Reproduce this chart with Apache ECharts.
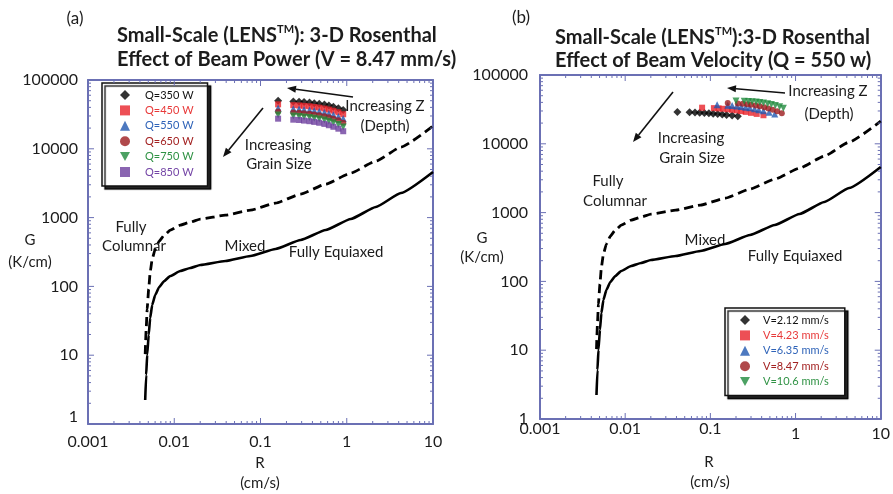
<!DOCTYPE html>
<html>
<head>
<meta charset="utf-8">
<script src="https://cdn.jsdelivr.net/npm/echarts@6/dist/echarts.min.js"></script>
<style>
html, body { margin: 0; padding: 0; background: #ffffff; }
#chart { width: 893px; height: 494px; }
</style>
</head>
<body>
<div id="chart"></div>
<script>
// ---- Axis ranges and tick labels ----
const R_MIN = 0.001, R_MAX = 10;
const G_MIN = 1, G_MAX = 100000;
const xTickLabels = ['0.001', '0.01', '0.1', '1', '10'];
const yTickLabels = ['1', '10', '100', '1000', '10000', '100000'];
const xMajorTicks = [0.001, 0.01, 0.1, 1, 10];
const yMajorTicks = [1, 10, 100, 1000, 10000, 100000];
const minorSteps = [2, 3, 4, 5, 6, 7, 8, 9];

// ---- CET boundaries (Hunt criterion), shared by both panels ----
const boundaryR = [0.004604, 0.004725, 0.004853, 0.005052, 0.00526, 0.005549, 0.006013, 0.006694, 0.00765, 0.008983, 0.011744,
                   0.015353, 0.020064, 0.039172, 0.076494, 0.14942, 0.29182, 0.57003, 1.113, 2.1737, 4.2457, 10];
const equiaxedG = [2.233, 5.154, 10.07, 19.66, 34.73, 53.65, 74.99, 98.0, 119.8, 141.6, 167.4,
                   185.1, 204.6, 233.9, 276.6, 349.6, 472.5, 660.3, 954.3, 1426, 2279, 4601];        // fully equiaxed limit (solid)
const columnarG = [10.37, 23.92, 46.74, 91.26, 161.2, 249.0, 348.1, 454.9, 556.1, 657.3, 777.1,
                   859.2, 949.8, 1085.8, 1284, 1623, 2193, 3065, 4430, 6619, 10579, 21358];          // fully columnar limit (dashed)

// ---- Panel (a): effect of beam power, V = 8.47 mm/s ----
const powerNames = ['Q=350 W', 'Q=450 W', 'Q=550 W', 'Q=650 W', 'Q=750 W', 'Q=850 W'];
const powerR = [0.16, 0.24, 0.28, 0.32, 0.37, 0.42, 0.48, 0.55, 0.62, 0.70, 0.80, 0.91];
const powerG350 = [50000, 48800, 48300, 47700, 47000, 46100, 45100, 43900, 42500, 41000, 39000, 36600];
const powerG450 = [44300, 43100, 42700, 42100, 41500, 40600, 39700, 38500, 37300, 35800, 34000, 31800];
const powerG550 = [39300, 38200, 37800, 37300, 36600, 35900, 35000, 33900, 32700, 31300, 29600, 27600];
const powerG650 = [34800, 33800, 33400, 32900, 32300, 31600, 30800, 29800, 28700, 27400, 25900, 24000];
const powerG750 = [30900, 29900, 29600, 29100, 28500, 27900, 27100, 26200, 25200, 24000, 22500, 20800];
const powerG850 = [27400, 26500, 26200, 25700, 25200, 24600, 23900, 23000, 22000, 20900, 19600, 18000];

// ---- Panel (b): effect of beam velocity, Q = 550 W ----
const velocityNames = ['V=2.12 mm/s', 'V=4.23 mm/s', 'V=6.35 mm/s', 'V=8.47 mm/s', 'V=10.6 mm/s'];
const velR212 = [0.041, 0.057, 0.066, 0.075, 0.085, 0.096, 0.108, 0.122, 0.138, 0.155, 0.18, 0.21];
const velG212 = [29000, 28700, 28500, 28300, 28000, 27700, 27400, 27000, 26600, 26200, 25700, 25100];
const velR423 = [0.08, 0.11, 0.125, 0.14, 0.16, 0.18, 0.205, 0.23, 0.26, 0.30, 0.35, 0.42];
const velG423 = [33500, 33000, 32700, 32300, 31800, 31200, 30600, 29900, 29100, 28200, 27200, 26000];
const velR635 = [0.12, 0.16, 0.18, 0.205, 0.23, 0.26, 0.29, 0.33, 0.37, 0.42, 0.49, 0.57];
const velG635 = [37000, 36300, 35900, 35400, 34800, 34100, 33300, 32400, 31300, 30100, 28700, 27200];
const velR847 = [0.16, 0.21, 0.24, 0.27, 0.30, 0.34, 0.38, 0.43, 0.48, 0.54, 0.61, 0.69];
const velG847 = [39300, 38500, 38100, 37500, 36800, 36000, 35000, 33900, 32700, 31300, 29700, 27800];
const velR1060 = [0.20, 0.25, 0.28, 0.31, 0.345, 0.38, 0.42, 0.47, 0.52, 0.58, 0.65, 0.72];
const velG1060 = [42000, 41600, 41300, 40900, 40400, 39800, 39100, 38200, 37200, 36000, 34600, 33000];

// ---- Styling ----
const FONT = 'Lato, "Open Sans", sans-serif';
const FRAME = '#6b70b4';
const INK = '#1c1c1c';
const markColors = ['#000000', '#e8232b', '#2157b0', '#9c1c1e', '#1f8a3c', '#6d3f9e'];
const textColors = ['#111111', '#e83a3a', '#2f63b8', '#a32222', '#2f9244', '#7445a6'];
const INV_TRIANGLE = 'path://M0,0L10,0L5,9Z';
const powerSymbols = ['diamond', 'rect', 'triangle', 'circle', INV_TRIANGLE, 'rect'];
const powerSizes = [8, 6, 7, 6, 7, 6];
const velSymbols = ['diamond', 'rect', 'triangle', 'circle', INV_TRIANGLE];
const velSizes = [8, 6, 7, 6, 7];

const pairs = (xs, ys) => xs.map((x, i) => [x, ys[i]]);
const decade = v => Math.round(Math.log10(v));

function xAxisDef(grid, position, labelOpts) {
  return {
    type: 'log', logBase: 10, gridIndex: grid, position: position,
    min: R_MIN, max: R_MAX,
    axisLine: { show: true, onZero: false, lineStyle: { color: FRAME, width: 2 } },
    axisTick: { show: false }, minorTick: { show: false },
    splitLine: { show: false }, minorSplitLine: { show: false },
    axisLabel: labelOpts || { show: false }
  };
}
function yAxisDef(grid, position, labelOpts) {
  return {
    type: 'log', logBase: 10, gridIndex: grid, position: position,
    min: G_MIN, max: G_MAX,
    axisLine: { show: true, onZero: false, lineStyle: { color: FRAME, width: 2 } },
    axisTick: { show: false }, minorTick: { show: false },
    splitLine: { show: false }, minorSplitLine: { show: false },
    axisLabel: labelOpts || { show: false }
  };
}

// inward tick marks on all four sides of a frame, placed through the log scales
function minorValues(majors) {
  const out = [];
  majors.slice(0, -1).forEach(d => minorSteps.forEach(m => out.push(d * m)));
  return out;
}
function tickSeries(axisIdx, xVals, yVals, len) {
  const line = (x1, y1, x2, y2) => ({ type: 'line', shape: { x1, y1, x2, y2 }, style: { stroke: FRAME, lineWidth: 1 } });
  return [
    {
      type: 'custom', xAxisIndex: axisIdx, yAxisIndex: axisIdx, silent: true, z: 4,
      data: xVals.map(v => [v, G_MIN]),
      renderItem: (p, api) => {
        const b = api.coord([api.value(0), G_MIN]);
        const t = api.coord([api.value(0), G_MAX]);
        return { type: 'group', children: [line(b[0], b[1], b[0], b[1] - len), line(t[0], t[1], t[0], t[1] + len)] };
      }
    },
    {
      type: 'custom', xAxisIndex: axisIdx, yAxisIndex: axisIdx, silent: true, z: 4,
      data: yVals.map(v => [R_MIN, v]),
      renderItem: (p, api) => {
        const l = api.coord([R_MIN, api.value(1)]);
        const r = api.coord([R_MAX, api.value(1)]);
        return { type: 'group', children: [line(l[0], l[1], l[0] + len, l[1]), line(r[0], r[1], r[0] - len, r[1])] };
      }
    }
  ];
}

function boundarySeries(axisIdx) {
  return [
    {
      type: 'line', name: 'equiaxed', xAxisIndex: axisIdx, yAxisIndex: axisIdx,
      data: pairs(boundaryR, equiaxedG), showSymbol: false, smooth: 0.15, smoothMonotone: 'x',
      lineStyle: { color: '#000', width: 2.6, join: 'round' }, z: 2, silent: true
    },
    {
      type: 'line', name: 'columnar', xAxisIndex: axisIdx, yAxisIndex: axisIdx,
      data: pairs(boundaryR, columnarG), showSymbol: false, smooth: 0.15, smoothMonotone: 'x',
      lineStyle: { color: '#000', width: 2.8, type: [9, 5], join: 'round' }, z: 2, silent: true
    }
  ];
}

function scatter(name, axisIdx, data, i, symbols, sizes) {
  return {
    type: 'scatter', name: name, xAxisIndex: axisIdx, yAxisIndex: axisIdx,
    data: data, symbol: symbols[i], symbolSize: sizes[i],
    itemStyle: { color: markColors[i] }, z: 5 + i, silent: true
  };
}

function arrow(x1, y1, x2, y2) {
  const a = Math.atan2(y2 - y1, x2 - x1), h = 9, w = 3.6;
  const bx = x2 - h * Math.cos(a), by = y2 - h * Math.sin(a);
  return {
    type: 'group', silent: true, children: [
      { type: 'line', shape: { x1, y1, x2: bx, y2: by }, style: { stroke: '#111', lineWidth: 1.6 } },
      { type: 'polygon', shape: { points: [[x2, y2], [bx + w * Math.sin(a), by - w * Math.cos(a)], [bx - w * Math.sin(a), by + w * Math.cos(a)]] }, style: { fill: '#111' } }
    ]
  };
}
function label(text, x, y, size) {
  return {
    type: 'text', x: x, y: y, silent: true,
    style: { text: text, fill: INK, font: (size || 15) + 'px ' + FONT, textAlign: 'center', textVerticalAlign: 'middle' }
  };
}

function titleRich(size, lh) {
  return {
    b: { fontFamily: FONT, fontWeight: 'bold', fontSize: size, color: INK, lineHeight: lh },
    sup: { fontFamily: FONT, fontWeight: 'bold', fontSize: 11, color: INK, lineHeight: 12, verticalAlign: 'top' }
  };
}

const legendBase = {
  orient: 'vertical', selectedMode: false,
  itemWidth: 10, itemHeight: 10, itemGap: 3.4,
  textStyle: { fontFamily: FONT, fontSize: 11, lineHeight: 12 },
  backgroundColor: '#ffffff', borderColor: '#111', borderWidth: 1.5, borderRadius: 0,
  shadowColor: 'rgba(0,0,0,0.85)', shadowBlur: 1, shadowOffsetX: 3, shadowOffsetY: 3
};

const powerSets = [powerG350, powerG450, powerG550, powerG650, powerG750, powerG850];
const velSets = [[velR212, velG212], [velR423, velG423], [velR635, velG635], [velR847, velG847], [velR1060, velG1060]];

const xMinor = minorValues(xMajorTicks), yMinor = minorValues(yMajorTicks);
const TICK_FONT = 16;

const option = {
  backgroundColor: '#ffffff',
  animation: false,
  grid: [
    { left: 88, top: 80, width: 345, height: 344, show: false },
    { left: 540, top: 75, width: 343, height: 344, show: false }
  ],
  title: [
    {
      text: '{b|Small-Scale (LENS}{sup|TM}{b|): 3-D Rosenthal}\n{b|Effect of Beam Power (V = 8.47 mm/s)}',
      left: 117, top: 24, padding: 0, textStyle: { rich: titleRich(20, 24) }
    },
    {
      text: '{b|Small-Scale (LENS}{sup|TM}{b|):3-D Rosenthal}\n{b|Effect of Beam Velocity (Q = 550 w)}',
      left: 555, top: 26, padding: 0, textStyle: { rich: titleRich(20, 23) }
    }
  ],
  xAxis: [
    xAxisDef(0, 'bottom', {
      margin: 10, color: INK, fontFamily: FONT, fontSize: TICK_FONT,
      formatter: v => xTickLabels[decade(v) + 3]
    }),
    xAxisDef(0, 'top'),
    xAxisDef(1, 'bottom', {
      margin: 2, color: INK, fontFamily: FONT, fontSize: TICK_FONT,
      formatter: v => (decade(v) >= 0 ? '{low|' : '{n|') + xTickLabels[decade(v) + 3] + '}',
      rich: { n: { fontFamily: FONT, fontSize: TICK_FONT, color: INK }, low: { fontFamily: FONT, fontSize: TICK_FONT, color: INK, padding: [5, 0, 0, 0] } }
    }),
    xAxisDef(1, 'top')
  ],
  yAxis: [
    yAxisDef(0, 'left', {
      margin: 10, color: INK, fontFamily: FONT, fontSize: TICK_FONT,
      formatter: v => decade(v) === 0 ? '{lift|' + yTickLabels[0] + '}' : yTickLabels[decade(v)],
      rich: { lift: { fontFamily: FONT, fontSize: TICK_FONT, color: INK, padding: [0, 0, 14, 0] } }
    }),
    yAxisDef(0, 'right'),
    yAxisDef(1, 'left', {
      margin: 12, color: INK, fontFamily: FONT, fontSize: TICK_FONT,
      formatter: v => yTickLabels[decade(v)]
    }),
    yAxisDef(1, 'right')
  ],
  legend: [
    Object.assign({}, legendBase, {
      left: 102, top: 83, padding: [6, 14, 8, 18],
      textStyle: Object.assign({}, legendBase.textStyle, { padding: [0, 0, 0, 10] }),
      data: powerNames.map((n, i) => ({ name: n, textStyle: { color: textColors[i] } }))
    }),
    Object.assign({}, legendBase, {
      left: 725, top: 308, padding: [6, 16, 8, 15],
      textStyle: Object.assign({}, legendBase.textStyle, { padding: [0, 0, 0, 8] }),
      data: velocityNames.map((n, i) => ({ name: n, textStyle: { color: textColors[i] } }))
    })
  ],
  series: [].concat(
    boundarySeries(0),
    boundarySeries(2),
    tickSeries(0, xMajorTicks, yMajorTicks, 6),
    tickSeries(0, xMinor, yMinor, 3),
    tickSeries(2, xMajorTicks, yMajorTicks, 6),
    tickSeries(2, xMinor, yMinor, 3),
    powerSets.map((g, i) => scatter(powerNames[i], 0, pairs(powerR, g), i, powerSymbols, powerSizes)),
    velSets.map((s, i) => scatter(velocityNames[i], 2, pairs(s[0], s[1]), i, velSymbols, velSizes))
  ),
  graphic: [
    // panel tags
    label('(a)', 75, 19, 17),
    label('(b)', 521, 18, 17),
    // axis names
    label('G', 30, 240, 15), label('(K/cm)', 30, 262, 15),
    label('R', 260, 463, 15), label('(cm/s)', 260, 483, 15),
    label('G', 482, 238, 15), label('(K/cm)', 482, 257, 15),
    label('R', 709, 462, 15), label('(cm/s)', 710, 482, 15),
    // panel (a) annotations
    label('Increasing Z', 385, 106, 15), label('(Depth)', 385, 126, 15),
    label('Increasing', 278, 145, 15), label('Grain Size', 279, 164, 15),
    label('Fully', 131, 227, 15), label('Columnar', 134, 246, 15),
    label('Mixed', 245, 246, 15), label('Fully Equiaxed', 336, 252, 15),
    arrow(353, 97, 287, 88), arrow(263, 108, 223, 157),
    // panel (b) annotations
    label('Increasing Z', 828, 91, 15), label('(Depth)', 829, 114, 15),
    label('Increasing', 691, 138, 15), label('Grain Size', 692, 158, 15),
    label('Fully', 608, 181, 15), label('Columnar', 615, 201, 15),
    label('Mixed', 705, 240, 15), label('Fully Equiaxed', 795, 256, 15),
    arrow(785, 93, 727, 88), arrow(673, 92, 633, 142)
  ]
};

const chart = echarts.init(document.getElementById('chart'), null, { renderer: 'canvas' });
chart.setOption(option);
</script>
</body>
</html>
